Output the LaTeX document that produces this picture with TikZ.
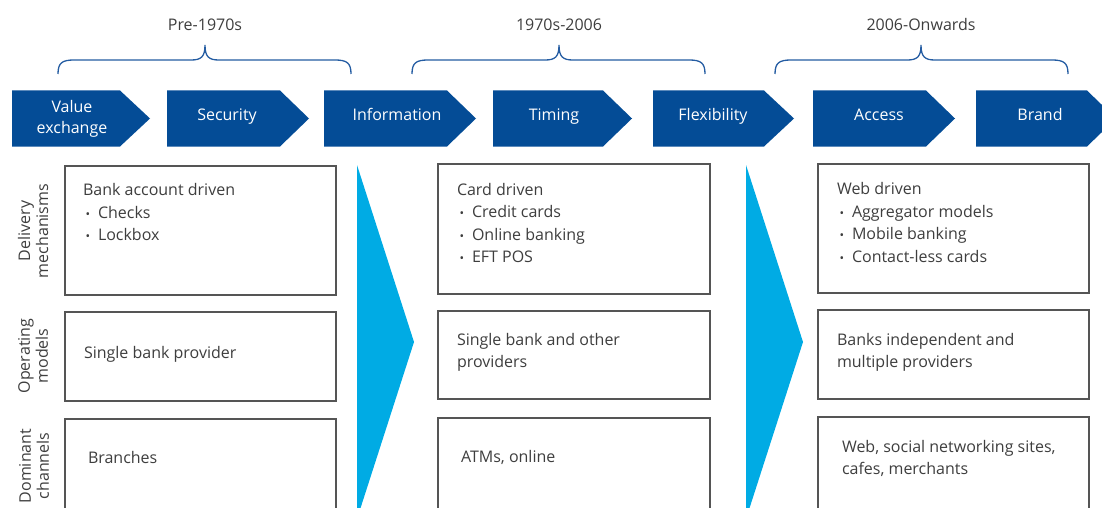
\documentclass[tikz,border=0pt]{standalone}
\usepackage{fontspec}
\setmainfont{Open Sans}
\definecolor{chevblue}{RGB}{4,76,150}
\definecolor{bracecol}{RGB}{36,92,162}
\definecolor{wedgecyan}{RGB}{0,171,228}
\definecolor{txtgray}{RGB}{62,62,62}
\definecolor{boxline}{RGB}{85,85,85}
% small bullet for the item lists
\newcommand\bitem{\makebox[15pt][l]{\hspace*{2.5pt}{\fontsize{12}{12}\selectfont\textbullet}}}
\begin{document}
\begin{tikzpicture}[x=1pt,y=-1pt,
  every node/.style={inner sep=0pt,outer sep=0pt},
  chevtext/.style={text=white,font=\fontsize{16}{20}\selectfont,anchor=base},
  period/.style={text=txtgray,font=\fontsize{16}{20}\selectfont,anchor=base},
  brace/.style={draw=bracecol,line width=1.3pt},
  cell/.style={draw=boxline,line width=1.1pt,fill=white,anchor=north west},
  % multi-line texts are placed by the baseline of their last line
  celltext/.style={text=txtgray,font=\fontsize{16}{22.5}\selectfont,align=left,anchor=base west},
  rowlabel/.style={text=txtgray,font=\fontsize{16}{20}\selectfont,align=center,rotate=90},
  wedge/.style={fill=wedgecyan}]
\useasboundingbox (0,0) rectangle (1102,508);
\clip (0,0) rectangle (1102,508);

% ---- period braces ----
\foreach \a/\m/\b/\nm/\lab in {58/205/351/p1/Pre-1970s, 412/559/705/p2/1970s-2006, 775/921/1068/p3/2006-Onwards}{
  \draw[brace] (\a,74) .. controls (\a,63) and (\a+4,60) .. (\a+16,60)
     -- (\m-14,60) .. controls (\m-4,60) and (\m,57) .. (\m,45)
     .. controls (\m,57) and (\m+4,60) .. (\m+14,60)
     -- (\b-16,60) .. controls (\b-4,60) and (\b,63) .. (\b,74);
  \node[period] (\nm) at (\m,31) {\lab};
}

% ---- chevrons ----
\foreach \l/\n/\t/\nm in {12/120/150/c1, 167/280/309/c2, 324/447/476/c3, 493/603/632/c4, 653/764/794/c5, 813/926/955/c6, 976/1087/1116/c7}{
  \fill[chevblue] (\l,90.5) -- (\n,90.5) -- (\t,118.5) -- (\n,146.5) -- (\l,146.5) -- cycle;
  \coordinate (\nm) at (\l,118.5);
}
\node[chevtext] (c1a) at (72,113) {Value};
\node[chevtext] (c1b) at (72,133) {exchange};
\node[chevtext] (c2t) at (227,121) {Security};
\node[chevtext] (c3t) at (397,121) {Information};
\node[chevtext] (c4t) at (554,121) {Timing};
\node[chevtext] (c5t) at (713,121) {Flexibility};
\node[chevtext] (c6t) at (879,121) {Access};
\node[chevtext] (c7t) at (1040,121) {Brand};

% ---- cyan transition wedges ----
\fill[wedge] (357,165) -- (414,342) -- (357,519) -- cycle;
\fill[wedge] (746,165) -- (803,342) -- (746,519) -- cycle;

% ---- row labels ----
\node[rowlabel] (r1) at (33,231) {Delivery\\[-2pt]mechanisms};
\node[rowlabel] (r2) at (33,356) {Operating\\[-2pt]models};
\node[rowlabel] (r3) at (34,466) {Dominant\\[-2pt]channels};

% ---- cells: left column ----
\node[cell,minimum width=271,minimum height=129] (l1) at (65,166) {};
\node[cell,minimum width=271,minimum height=89]  (l2) at (65,312) {};
\node[cell,minimum width=271,minimum height=110] (l3) at (65,419) {};
% ---- cells: middle column ----
\node[cell,minimum width=272,minimum height=130] (m1) at (438,164) {};
\node[cell,minimum width=272,minimum height=88]  (m2) at (438,311) {};
\node[cell,minimum width=272,minimum height=110] (m3) at (438,418) {};
% ---- cells: right column ----
\node[cell,minimum width=271,minimum height=129] (g1) at (818,164) {};
\node[cell,minimum width=271,minimum height=89]  (g2) at (818,310) {};
\node[cell,minimum width=271,minimum height=110] (g3) at (818,417) {};

% ---- cell texts ----
\node[celltext] (l1t) at (83,240.5) {Bank account driven\\\bitem Checks\\\bitem Lockbox};
\node[celltext] (l2t) at (84,358) {Single bank provider};
\node[celltext] (l3t) at (88,463) {Branches};

\node[celltext] (m1t) at (457,262.5) {Card driven\\\bitem Credit cards\\\bitem Online banking\\\bitem EFT POS};
\node[celltext] (m2t) at (457,367.5) {Single bank and other\\providers};
\node[celltext] (m3t) at (461,462) {ATMs, online};

\node[celltext] (g1t) at (837,262) {Web driven\\\bitem Aggregator models\\\bitem Mobile banking\\\bitem Contact-less cards};
\node[celltext] (g2t) at (837,367.5) {Banks independent and\\multiple providers};
\node[celltext] (g3t) at (842,474.5) {Web, social networking sites,\\cafes, merchants};
\end{tikzpicture}
\end{document}
